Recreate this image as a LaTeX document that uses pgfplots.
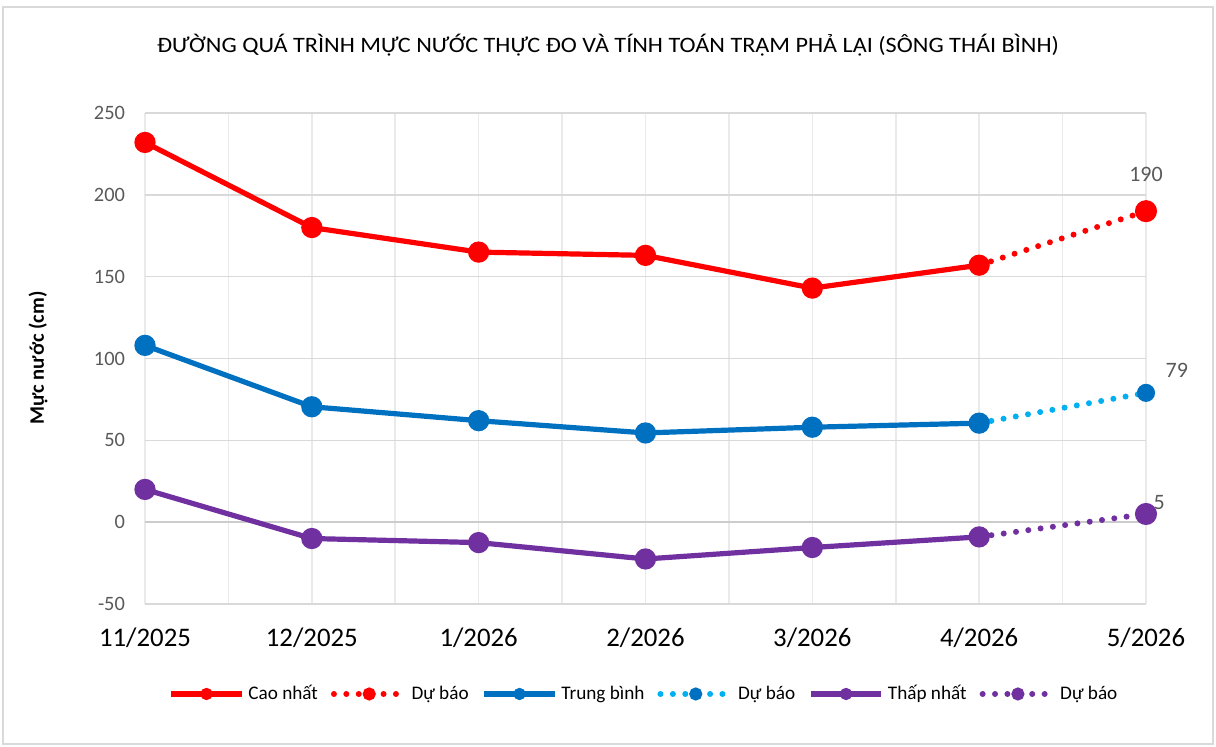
\documentclass[border=0pt]{standalone}
\usepackage{pgfplots}
\pgfplotsset{compat=1.18}
\usepackage{fontspec}
\setmainfont{Carlito}
\definecolor{cred}{HTML}{FF0000}
\definecolor{cblue}{HTML}{0070C0}
\definecolor{clblue}{HTML}{00B0F0}
\definecolor{cpurple}{HTML}{7030A0}
\definecolor{gridh}{HTML}{D9D9D9}
\definecolor{gridv}{HTML}{EAEAEA}
\definecolor{zeroc}{HTML}{CCCCCC}
\definecolor{tickc}{HTML}{595959}
\begin{document}
\begin{tikzpicture}[x=1pt,y=1pt]
\useasboundingbox (-72.5,-71.5) rectangle (535.5,302);
\draw[draw=gridh,line width=1pt] (-71,-70) rectangle (534,298.5);
\begin{axis}[
  at={(0,0)}, anchor=south west,
  scale only axis, width=500.5pt, height=245.5pt,
  xmin=0, xmax=6, ymin=-50, ymax=250,
  xtick={0,...,6},
  xticklabels={11/2025,12/2025,1/2026,2/2026,3/2026,4/2026,5/2026},
  minor x tick num=1,
  ytick={-50,0,...,250},
  grid=both,
  major grid style={gridh, line width=0.8pt},
  minor grid style={gridv, line width=0.8pt},
  x grid style={gridv},
  axis line style={draw=none},
  major tick length=0pt, minor tick length=0pt,
  /pgf/number format/assume math mode=true,
  xticklabel style={font=\fontsize{13.4}{15}\selectfont, text=black, yshift=-8.5pt},
  yticklabel style={font=\fontsize{10.2}{12}\selectfont, text=tickc, xshift=-6.5pt},
  clip=false,
  legend columns=6,
  legend style={at={(250pt,-45pt)}, anchor=center, draw=none, fill=none,
    font=\fontsize{9.6}{11}\selectfont, /tikz/every even column/.append style={column sep=4.5pt}},
  legend image code/.code={\draw[mark repeat=2,mark phase=2,#1,mark size=1.7pt] plot coordinates {(0cm,0cm) (0.62cm,0cm) (1.24cm,0cm)};},
]
% zero line
\draw[zeroc, line width=0.8pt] (axis cs:0,0) -- (axis cs:6,0);
\addplot[cred, line width=2.6pt, mark=*, mark size=4pt] coordinates {(0,232) (1,180) (2,165) (3,163) (4,143) (5,157)};
\addlegendentry{Cao nhất}
\addplot[cred, line width=3pt, line cap=round, dash pattern=on 0pt off 6.2pt, mark=*, mark size=4pt, mark indices={2}, mark options={solid}] coordinates {(5,157) (6,190)} node[pos=1, above=10pt, font=\fontsize{11}{13}\selectfont, text=tickc] {190};
\addlegendentry{Dự báo}
\addplot[cblue, line width=2.6pt, mark=*, mark size=4pt] coordinates {(0,108) (1,70.5) (2,62) (3,54.5) (4,58) (5,60.5)};
\addlegendentry{Trung bình}
\addplot[clblue, line width=3pt, line cap=round, dash pattern=on 0pt off 6.2pt, mark=*, mark size=3pt, mark indices={2}, mark options={solid, fill=cblue, draw=cblue}] coordinates {(5,60.5) (6,79)} node[pos=1, anchor=south west, xshift=5pt, yshift=3pt, font=\fontsize{11}{13}\selectfont, text=tickc] {79};
\addlegendentry{Dự báo}
\addplot[cpurple, line width=2.6pt, mark=*, mark size=4pt] coordinates {(0,20) (1,-10) (2,-12.5) (3,-22.5) (4,-15.5) (5,-9)};
\addlegendentry{Thấp nhất}
\addplot[cpurple, line width=3pt, line cap=round, dash pattern=on 0pt off 6.2pt, mark=*, mark size=4pt, mark indices={2}, mark options={solid}] coordinates {(5,-9) (6,5)} node[pos=1, anchor=south west, xshift=-1pt, yshift=-2.5pt, font=\fontsize{11}{13}\selectfont, text=tickc] {5};
\addlegendentry{Dự báo}
\end{axis}
\node[font=\fontsize{11}{13}\selectfont, xscale=1.1] at (231.5,279.5) {ĐƯỜNG QUÁ TRÌNH MỰC NƯỚC THỰC ĐO VÀ TÍNH TOÁN TRẠM PHẢ LẠI (SÔNG THÁI BÌNH)};
\node[rotate=90, font=\bfseries\fontsize{10.3}{12}\selectfont] at (-53.5,123) {Mực nước (cm)};
\end{tikzpicture}
\end{document}
